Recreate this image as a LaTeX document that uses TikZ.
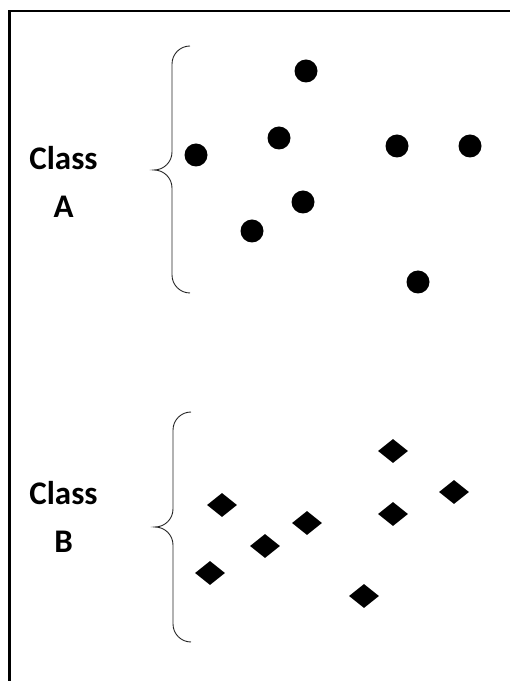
\documentclass[tikz,border=0pt]{standalone}
\usepackage{fontspec}
\setmainfont{Carlito}
\usepackage{tikz}
\usetikzlibrary{shapes.geometric, positioning}
\tikzset{
    x=1pt, y=1pt, % Koordinaten in pt
    punkt/.style={ % Elemente der Klasse A
        circle,
        fill=black,
        inner sep=0pt,
        minimum size=23pt
    },
    raute/.style={ % Elemente der Klasse B
        diamond,
        fill=black,
        inner sep=0pt,
        minimum width=30pt,
        minimum height=24pt
    },
    klasse/.style={ % Beschriftung links
        font=\fontsize{33}{39}\selectfont\bfseries,
        inner sep=0pt
    },
    klammer/.style={ % geschweifte Klammer
        draw=black!85,
        line width=0.9pt
    }
}

\begin{document}
\begin{tikzpicture}
            \useasboundingbox (0,0) rectangle (510,681);
            \clip (0,0) rectangle (510,681);
            % Rahmen
            \draw[line width=2.5pt] (9.5,-10) -- (9.5,670) -- (520,670);

            % Klasse A
            \node[klasse, anchor=base]                      (klasseA)   at (63.5,511) {Class};
            \node[klasse, below of=klasseA, node distance=48pt] (A)     {A};

            \node[punkt]    (a1)    at (306,610)    {};
            \node[punkt]    (a2)    at (196,526)    {};
            \node[punkt]    (a3)    at (279,543)    {};
            \node[punkt]    (a4)    at (397,535)    {};
            \node[punkt]    (a5)    at (470,535)    {};
            \node[punkt]    (a6)    at (303,479)    {};
            \node[punkt]    (a7)    at (252,450)    {};
            \node[punkt]    (a8)    at (418,399)    {};

            \draw[klammer]
                    (190,635) arc[start angle=90, end angle=180, radius=18]
                    -- ++(0,-88) arc[start angle=0, end angle=-90, radius=18]
                    arc[start angle=90, end angle=0, radius=18]
                    -- ++(0,-87) arc[start angle=180, end angle=270, radius=18];

            % Klasse B
            \node[klasse, anchor=base]                      (klasseB)   at (63.5,176) {Class};
            \node[klasse, below of=klasseB, node distance=48pt] (B)     {B};

            \node[raute]    (b1)    at (393,230)    {};
            \node[raute]    (b2)    at (454,189)    {};
            \node[raute]    (b3)    at (222,176)    {};
            \node[raute]    (b4)    at (393,167)    {};
            \node[raute]    (b5)    at (307,158)    {};
            \node[raute]    (b6)    at (265,135)    {};
            \node[raute]    (b7)    at (210,108)    {};
            \node[raute]    (b8)    at (364,85)     {};

            \draw[klammer]
                    (191,269) arc[start angle=90, end angle=180, radius=18]
                    -- ++(0,-79) arc[start angle=0, end angle=-90, radius=18]
                    arc[start angle=90, end angle=0, radius=18]
                    -- ++(0,-79) arc[start angle=180, end angle=270, radius=18];
\end{tikzpicture}
\end{document}
